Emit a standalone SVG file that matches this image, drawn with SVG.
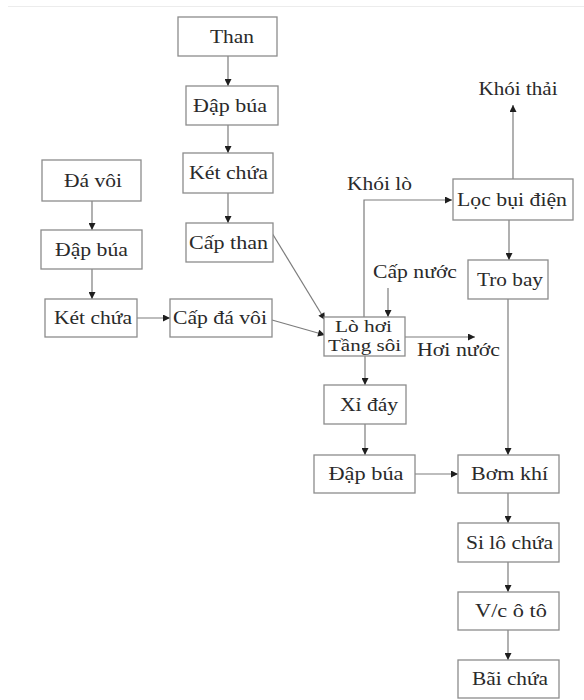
<svg xmlns="http://www.w3.org/2000/svg" width="584" height="700" viewBox="0 0 584 700">
<style>
.b{fill:#fff;stroke:#8c8c8c;stroke-width:1.3}
.t{font-family:"Liberation Serif","Times New Roman",serif;font-size:18px;fill:#2a2a2a;text-anchor:middle}
.s{font-size:16.5px}
.c{fill:none;stroke:#7c7c7c;stroke-width:1.2}
</style>
<defs>
<marker id="a" viewBox="0 0 10 10" refX="10" refY="5" markerWidth="8" markerHeight="7" markerUnits="userSpaceOnUse" orient="auto">
<path d="M0,0 L10,5 L0,10 z" fill="#1e1e1e"/>
</marker>
</defs>
<rect width="584" height="700" fill="#fff"/>
<line x1="8" y1="6.5" x2="584" y2="6.5" stroke="#ececec" stroke-width="1"/>
<g id="connectors">
<line class="c" x1="228" y1="56" x2="228" y2="86" marker-end="url(#a)"/>
<line class="c" x1="228" y1="125" x2="228" y2="153" marker-end="url(#a)"/>
<line class="c" x1="228" y1="193" x2="228" y2="223" marker-end="url(#a)"/>
<line class="c" x1="92" y1="201" x2="92" y2="230" marker-end="url(#a)"/>
<line class="c" x1="92" y1="269" x2="92" y2="299" marker-end="url(#a)"/>
<line class="c" x1="137" y1="318" x2="170" y2="318" marker-end="url(#a)"/>
<line class="c" x1="272" y1="233" x2="325" y2="320" marker-end="url(#a)"/>
<line class="c" x1="272" y1="320" x2="325" y2="335" marker-end="url(#a)"/>
<path class="c" d="M364,317 L364,200 L452,200" marker-end="url(#a)"/>
<line class="c" x1="388" y1="288" x2="388" y2="317" marker-end="url(#a)"/>
<line class="c" x1="405" y1="337" x2="475" y2="337" marker-end="url(#a)"/>
<line class="c" x1="513" y1="179" x2="513" y2="105" marker-end="url(#a)"/>
<line class="c" x1="509" y1="220" x2="509" y2="260" marker-end="url(#a)"/>
<line class="c" x1="508" y1="299" x2="508" y2="455" marker-end="url(#a)"/>
<line class="c" x1="365" y1="356" x2="365" y2="385" marker-end="url(#a)"/>
<line class="c" x1="365" y1="424" x2="365" y2="455" marker-end="url(#a)"/>
<line class="c" x1="415" y1="474" x2="458" y2="474" marker-end="url(#a)"/>
<line class="c" x1="508" y1="493" x2="508" y2="523" marker-end="url(#a)"/>
<line class="c" x1="508" y1="562" x2="508" y2="592" marker-end="url(#a)"/>
<line class="c" x1="508" y1="630" x2="508" y2="660" marker-end="url(#a)"/>
</g>
<g id="than"><rect class="b" x="178" y="17" width="99" height="39"/><text class="t" x="232" y="43" textLength="44" lengthAdjust="spacingAndGlyphs">Than</text></g>
<g id="dapbua1"><rect class="b" x="186" y="86" width="92" height="39"/><text class="t" x="230" y="112" textLength="74" lengthAdjust="spacingAndGlyphs">Đập búa</text></g>
<g id="ketchua1"><rect class="b" x="183" y="153" width="90" height="40"/><text class="t" x="228.5" y="179" textLength="79" lengthAdjust="spacingAndGlyphs">Két chứa</text></g>
<g id="capthan"><rect class="b" x="186" y="223" width="87" height="39"/><text class="t" x="228.5" y="249" textLength="79" lengthAdjust="spacingAndGlyphs">Cấp than</text></g>
<g id="davoi"><rect class="b" x="42" y="160" width="99" height="41"/><text class="t" x="93" y="187" textLength="58" lengthAdjust="spacingAndGlyphs">Đá vôi</text></g>
<g id="dapbua2"><rect class="b" x="41" y="230" width="101" height="39"/><text class="t" x="91.5" y="256" textLength="73" lengthAdjust="spacingAndGlyphs">Đập búa</text></g>
<g id="ketchua2"><rect class="b" x="45" y="299" width="92" height="38"/><text class="t" x="93" y="324" textLength="78" lengthAdjust="spacingAndGlyphs">Két chứa</text></g>
<g id="capdavoi"><rect class="b" x="170" y="299" width="102" height="38"/><text class="t" x="220" y="324" textLength="94" lengthAdjust="spacingAndGlyphs">Cấp đá vôi</text></g>
<g id="lohoi"><rect class="b" x="324" y="317" width="81" height="39"/><text class="t s" x="363.5" y="332" textLength="57" lengthAdjust="spacingAndGlyphs">Lò hơi</text><text class="t s" x="364.5" y="351" textLength="73" lengthAdjust="spacingAndGlyphs">Tầng sôi</text></g>
<g id="khoilo"><text class="t" x="379.5" y="190" textLength="65" lengthAdjust="spacingAndGlyphs">Khói lò</text></g>
<g id="capnuoc"><text class="t" x="415" y="278" textLength="84" lengthAdjust="spacingAndGlyphs">Cấp nước</text></g>
<g id="hoinuoc"><text class="t" x="458.5" y="356" textLength="83" lengthAdjust="spacingAndGlyphs">Hơi nước</text></g>
<g id="khoithai"><text class="t" x="518" y="95" textLength="79" lengthAdjust="spacingAndGlyphs">Khói thải</text></g>
<g id="locbui"><rect class="b" x="453" y="179" width="120" height="41"/><text class="t" x="512" y="206" textLength="110" lengthAdjust="spacingAndGlyphs">Lọc bụi điện</text></g>
<g id="trobay"><rect class="b" x="468" y="260" width="80" height="39"/><text class="t" x="510" y="286" textLength="66" lengthAdjust="spacingAndGlyphs">Tro bay</text></g>
<g id="xiday"><rect class="b" x="324" y="385" width="82" height="39"/><text class="t" x="369" y="411" textLength="58" lengthAdjust="spacingAndGlyphs">Xỉ đáy</text></g>
<g id="dapbua3"><rect class="b" x="314" y="455" width="101" height="38"/><text class="t" x="366" y="480" textLength="75" lengthAdjust="spacingAndGlyphs">Đập búa</text></g>
<g id="bomkhi"><rect class="b" x="458" y="455" width="101" height="38"/><text class="t" x="509.5" y="480" textLength="77" lengthAdjust="spacingAndGlyphs">Bơm khí</text></g>
<g id="silo"><rect class="b" x="458" y="523" width="101" height="39"/><text class="t" x="509.5" y="549" textLength="87" lengthAdjust="spacingAndGlyphs">Si lô chứa</text></g>
<g id="vcoto"><rect class="b" x="458" y="592" width="101" height="38"/><text class="t" x="511" y="617" textLength="72" lengthAdjust="spacingAndGlyphs">V/c ô tô</text></g>
<g id="baichua"><rect class="b" x="458" y="660" width="101" height="38"/><text class="t" x="510" y="685" textLength="76" lengthAdjust="spacingAndGlyphs">Bãi chứa</text></g>
</svg>
